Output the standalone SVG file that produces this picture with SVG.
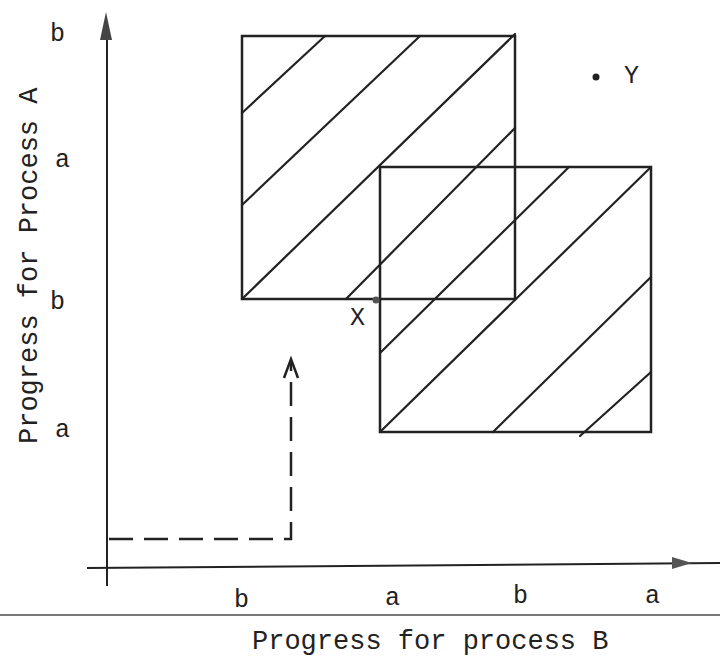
<svg xmlns="http://www.w3.org/2000/svg" width="720" height="658" viewBox="0 0 720 658">
<style>
.ln{stroke:#222;stroke-width:2.5;fill:none;stroke-linecap:round}
.ax{stroke:#222;stroke-width:2;fill:none}
.hatch{stroke:#222;stroke-width:2.2;fill:none;stroke-linecap:round}
.dash{stroke:#222;stroke-width:2.5;fill:none;stroke-dasharray:24 11}
.lbl{font-family:"Liberation Mono","DejaVu Sans Mono",monospace;font-size:25px;fill:#222}
.ttl{font-family:"Liberation Mono","DejaVu Sans Mono",monospace;font-size:27px;fill:#222}
</style>
<rect width="720" height="658" fill="#fff"/>
<g id="axes">
<line class="ax" x1="107" y1="586" x2="107" y2="30"/>
<path d="M106,12 L100,40 L112,40 Z" fill="#444"/>
<line class="ax" x1="87" y1="568" x2="720" y2="563"/>
<path d="M692,563 L672,557 L672,569 Z" fill="#555"/>
<line x1="0" y1="615" x2="720" y2="615" stroke="#777" stroke-width="2"/>
</g>
<g id="region1">
<rect class="ln" x="242" y="36" width="273" height="263"/>
<line class="hatch" x1="242" y1="113" x2="325" y2="36"/>
<line class="hatch" x1="242" y1="205" x2="420" y2="36"/>
<line class="hatch" x1="242" y1="299" x2="515" y2="34"/>
<line class="hatch" x1="346" y1="299" x2="515" y2="128"/>
</g>
<g id="region2">
<rect class="ln" x="380" y="167" width="271" height="265"/>
<line class="hatch" x1="380" y1="353" x2="569" y2="167"/>
<line class="hatch" x1="380" y1="432" x2="651" y2="167"/>
<line class="hatch" x1="493" y1="432" x2="651" y2="277"/>
<line class="hatch" x1="580" y1="436" x2="651" y2="372"/>
</g>
<g id="connectors">
<path class="dash" d="M109,539 L291,539 L291,362"/>
<path d="M284,378 L291,359 L298,378" stroke="#222" stroke-width="2.5" fill="none"/>
</g>
<g id="pointX">
<circle cx="376" cy="300" r="3.5" fill="#555"/>
<text class="lbl" x="350" y="325">X</text>
</g>
<g id="pointY">
<circle cx="596" cy="77" r="3.5" fill="#222"/>
<text class="lbl" x="624" y="83">Y</text>
</g>
<g id="labels">
<text class="lbl" x="50" y="41">b</text>
<text class="lbl" x="55" y="167">a</text>
<text class="lbl" x="50" y="309">b</text>
<text class="lbl" x="55" y="437">a</text>
<text class="lbl" x="234" y="607">b</text>
<text class="lbl" x="385" y="605">a</text>
<text class="lbl" x="513" y="603">b</text>
<text class="lbl" x="645" y="603">a</text>
<text class="ttl" transform="translate(37,444) rotate(-90)">Progress for Process A</text>
<text class="ttl" x="252" y="649">Progress for process B</text>
</g>
</svg>
